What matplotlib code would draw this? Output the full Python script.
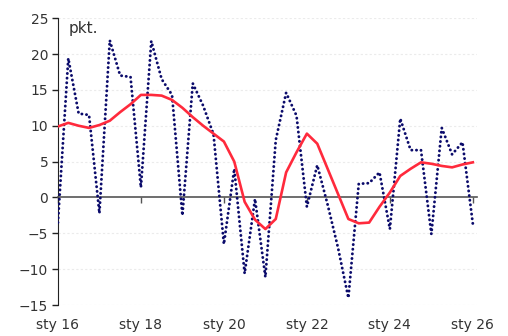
import matplotlib.pyplot as plt
import numpy as np

plt.rcParams['font.family'] = ['DejaVu Sans']

# quarterly observations, Q1 2016 .. Q1 2026
quarters = np.arange(41)
balance = [-3.5, 19.4, 11.7, 11.5, -2.2, 21.9, 17.0, 16.8, 1.4, 21.8,
           16.5, 14.3, -2.5, 15.9, 12.8, 8.8, -6.5, 4.0, -10.6, -0.2,
           -11.1, 8.0, 14.6, 11.4, -1.3, 4.5, -1.0, -7.0, -14.0, 1.9,
           2.0, 3.5, -4.4, 11.0, 6.6, 6.6, -5.1, 9.7, 6.0, 7.7,
           -3.7]
trend = [9.9, 10.4, 10.0, 9.7, 10.1, 10.7, 11.9, 13.0, 14.3, 14.3,
         14.2, 13.6, 12.5, 11.2, 10.0, 8.9, 7.8, 5.0, -0.6, -3.1,
         -4.4, -3.0, 3.5, 6.3, 8.9, 7.5, 4.0, 0.5, -3.0, -3.6,
         -3.5, -1.3, 0.7, 3.0, 4.0, 4.9, 4.7, 4.4, 4.2, 4.6,
         4.9]
tick_pos = [0, 8, 16, 24, 32, 40]
tick_labels = ['sty 16', 'sty 18', 'sty 20', 'sty 22', 'sty 24', 'sty 26']

fig = plt.figure(figsize=(5.08, 3.36), dpi=100)
ax = fig.add_axes([0.114, 0.092, 0.825, 0.854])

ax.set_ylim(-15, 25)
ax.set_xlim(0, 40.4)
ax.set_yticks(np.arange(-15, 26, 5))
for yv in np.arange(-15, 26, 5):
    if yv != 0:
        ax.axhline(yv, color='#ebebeb', lw=0.8, ls=(0, (2, 2)), zorder=0)

# dotted series: round dots spaced a few pixels apart
ax.plot(quarters, balance, color='#0b0b6b', lw=2.1, ls=(0, (0.05, 1.55)),
        dash_capstyle='round', zorder=3)
ax.plot(quarters, trend, color='#ff2a3c', lw=1.9, zorder=4)

ax.spines['top'].set_visible(False)
ax.spines['right'].set_visible(False)
ax.spines['left'].set_color('#222222')
ax.spines['bottom'].set_position(('data', 0))
ax.spines['bottom'].set_color('#555555')
ax.spines['bottom'].set_linewidth(1.2)

ax.set_xticks(tick_pos)
ax.set_xticklabels(tick_labels)
ax.tick_params(axis='x', direction='out', length=4, width=1, color='#555555',
               pad=83, labelsize=10, labelcolor='#333333')
ax.tick_params(axis='y', direction='out', length=4, width=1, color='#222222',
               labelsize=10, labelcolor='#333333', pad=3)

ax.text(0.025, 0.99, 'pkt.', transform=ax.transAxes, fontsize=11,
        color='#333333', va='top', ha='left')

fig.savefig('out.png', dpi=100)
